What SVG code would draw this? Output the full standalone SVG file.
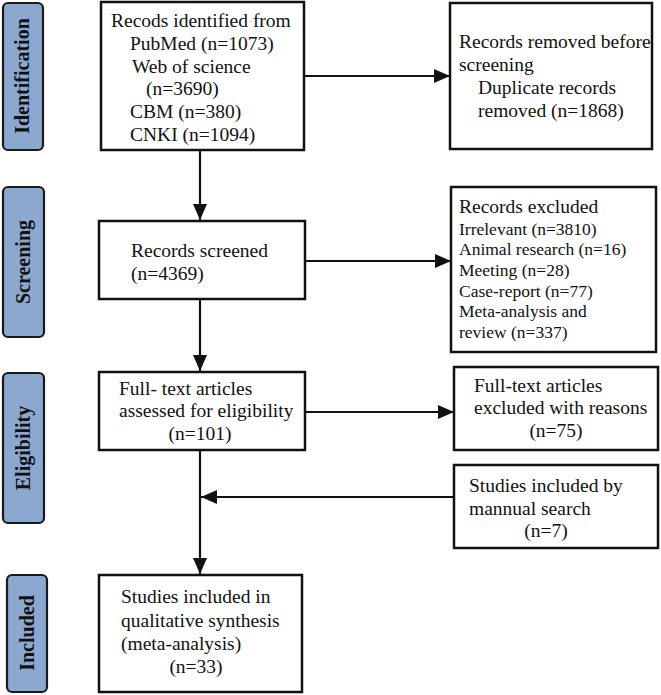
<svg xmlns="http://www.w3.org/2000/svg" width="661" height="695" viewBox="0 0 661 695">
<defs>
<style>
.box{fill:#fff;stroke:#111;stroke-width:2.5}
.bar{fill:#8DA8D0;stroke:#1a1a1a;stroke-width:2.2}
.t{font-family:"Liberation Serif","Times New Roman",serif;font-size:19.5px;fill:#111}
.s{font-family:"Liberation Serif","Times New Roman",serif;font-size:17.5px;fill:#111}
.lab{font-family:"Liberation Serif","Times New Roman",serif;font-size:20px;font-weight:bold;fill:#111;text-anchor:middle}
.c{fill:none;stroke:#111;stroke-width:2.2}
</style>
<marker id="ah" markerUnits="userSpaceOnUse" markerWidth="16" markerHeight="14" refX="16" refY="7" orient="auto">
<path d="M0,0 L16,7 L0,14 Z" fill="#111"/>
</marker>
</defs>

<g id="stage-identification">
<rect class="bar" x="3" y="3" width="40" height="147" rx="5"/>
<text class="lab" transform="translate(29,76) rotate(-90)">Identification</text>
</g>
<g id="stage-screening">
<rect class="bar" x="3" y="187" width="41" height="150" rx="5"/>
<text class="lab" transform="translate(30,262) rotate(-90)">Screening</text>
</g>
<g id="stage-eligibility">
<rect class="bar" x="3" y="373" width="41" height="150" rx="5"/>
<text class="lab" transform="translate(30,448) rotate(-90)">Eligibility</text>
</g>
<g id="stage-included">
<rect class="bar" x="7" y="575" width="40" height="117" rx="5"/>
<text class="lab" transform="translate(34,633) rotate(-90)">Included</text>
</g>

<g id="connectors">
<line class="c" x1="200" y1="150" x2="200" y2="220" marker-end="url(#ah)"/>
<line class="c" x1="304" y1="76" x2="450" y2="76" marker-end="url(#ah)"/>
<line class="c" x1="305" y1="261" x2="451" y2="261" marker-end="url(#ah)"/>
<line class="c" x1="200" y1="299" x2="200" y2="371" marker-end="url(#ah)"/>
<line class="c" x1="305" y1="412" x2="454" y2="412" marker-end="url(#ah)"/>
<line class="c" x1="200" y1="450" x2="200" y2="574" marker-end="url(#ah)"/>
<line class="c" x1="454" y1="497" x2="201" y2="497" marker-end="url(#ah)"/>
</g>

<g id="identified">
<rect class="box" x="101" y="2" width="203" height="148"/>
<text class="t" x="111" y="27">Recods identified from</text>
<text class="t" x="130" y="50">PubMed (n=1073)</text>
<text class="t" x="132" y="73">Web of science</text>
<text class="t" x="146" y="95">(n=3690)</text>
<text class="t" x="130" y="118">CBM (n=380)</text>
<text class="t" x="130" y="141">CNKI (n=1094)</text>
</g>

<g id="removed">
<rect class="box" x="450" y="3" width="202" height="146"/>
<text class="t" x="459" y="48">Records removed before</text>
<text class="t" x="459" y="71">screening</text>
<text class="t" x="478" y="94">Duplicate records</text>
<text class="t" x="478" y="117">removed (n=1868)</text>
</g>

<g id="screened">
<rect class="box" x="99" y="221" width="206" height="78"/>
<text class="t" x="131" y="257">Records screened</text>
<text class="t" x="131" y="280">(n=4369)</text>
</g>

<g id="excluded">
<rect class="box" x="451" y="187" width="205" height="165"/>
<text class="t" x="459" y="213">Records excluded</text>
<text class="s" x="459" y="235">Irrelevant (n=3810)</text>
<text class="s" x="459" y="255">Animal research (n=16)</text>
<text class="s" x="459" y="276">Meeting (n=28)</text>
<text class="s" x="459" y="297">Case-report (n=77)</text>
<text class="s" x="459" y="317">Meta-analysis and</text>
<text class="s" x="459" y="338">review (n=337)</text>
</g>

<g id="fulltext">
<rect class="box" x="99" y="372" width="206" height="78"/>
<text class="t" x="119" y="395">Full- text articles</text>
<text class="t" x="119" y="417">assessed for eligibility</text>
<text class="t" x="200" y="440" text-anchor="middle">(n=101)</text>
</g>

<g id="fulltext-excluded">
<rect class="box" x="454" y="367" width="204" height="83"/>
<text class="t" x="474" y="392">Full-text articles</text>
<text class="t" x="474" y="414">excluded with reasons</text>
<text class="t" x="556" y="437" text-anchor="middle">(n=75)</text>
</g>

<g id="manual">
<rect class="box" x="454" y="465" width="204" height="83"/>
<text class="t" x="469" y="492">Studies included by</text>
<text class="t" x="469" y="515">mannual search</text>
<text class="t" x="546" y="537" text-anchor="middle">(n=7)</text>
</g>

<g id="included">
<rect class="box" x="99" y="575" width="203" height="117"/>
<text class="t" x="121" y="603">Studies included in</text>
<text class="t" x="121" y="627">qualitative synthesis</text>
<text class="t" x="121" y="650">(meta-analysis)</text>
<text class="t" x="196" y="673" text-anchor="middle">(n=33)</text>
</g>
</svg>
